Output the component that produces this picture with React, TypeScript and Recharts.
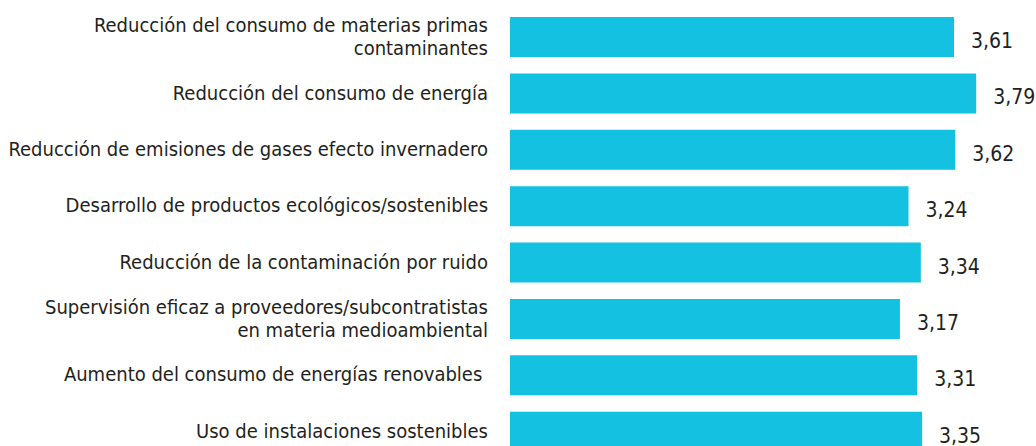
import React from "react";
import { BarChart, Bar, XAxis, YAxis, LabelList } from "recharts";

const categories: string[][] = [
  ["Reducción del consumo de materias primas", "contaminantes"],
  ["Reducción del consumo de energía"],
  ["Reducción de emisiones de gases efecto invernadero"],
  ["Desarrollo de productos ecológicos/sostenibles"],
  ["Reducción de la contaminación por ruido"],
  ["Supervisión eficaz a proveedores/subcontratistas", "en materia medioambiental"],
  ["Aumento del consumo de energías renovables "],
  ["Uso de instalaciones sostenibles"],
];
const values: number[] = [3.61, 3.79, 3.62, 3.24, 3.34, 3.17, 3.31, 3.35];

const data = categories.map((lines, i) => ({
  name: lines.join("\n"),
  value: values[i],
}));

const FONT = "'DejaVu Sans Condensed', 'DejaVu Sans', sans-serif";
const TEXT = "#231f20";
const BAR = "#14c1e0";

const CategoryTick = (props: any) => {
  const { x, y, payload } = props;
  const lines: string[] = String(payload.value).split("\n");
  const lh = 23;
  const start = -((lines.length - 1) * lh) / 2;
  return (
    <text
      x={x - 14}
      y={y}
      textAnchor="end"
      fill={TEXT}
      fontFamily={FONT}
      fontSize={20}
      style={{ whiteSpace: "pre" }}
    >
      {lines.map((l, i) => (
        <tspan key={i} x={x - 14} dy={i === 0 ? start + 6 : lh}>
          {l}
        </tspan>
      ))}
    </text>
  );
};

const ValueLabel = (props: any) => {
  const { x, y, width, height, value } = props;
  return (
    <text
      x={x + width + 17}
      y={y + height / 2 + 11}
      fill={TEXT}
      fontFamily={FONT}
      fontSize={21}
      textAnchor="start"
    >
      {Number(value).toFixed(2).replace(".", ",")}
    </text>
  );
};

export default function App() {
  return (
    <div
      style={{
        position: "fixed",
        left: 0,
        top: 0,
        width: 1036,
        height: 446,
        overflow: "hidden",
        background: "#ffffff",
      }}
    >
      <div style={{ position: "absolute", left: 8, top: 8 }}>
        <BarChart
          width={1028}
          height={462}
          data={data}
          layout="vertical"
          margin={{ top: 1, right: 34, bottom: 10, left: 0 }}
          barSize={40}
        >
          <XAxis type="number" domain={[0, 4]} hide />
          <YAxis
            type="category"
            dataKey="name"
            width={502}
            axisLine={false}
            tickLine={false}
            tick={<CategoryTick />}
            interval={0}
          />
          <Bar dataKey="value" fill={BAR} isAnimationActive={false}>
            <LabelList dataKey="value" content={<ValueLabel />} />
          </Bar>
        </BarChart>
      </div>
    </div>
  );
}
